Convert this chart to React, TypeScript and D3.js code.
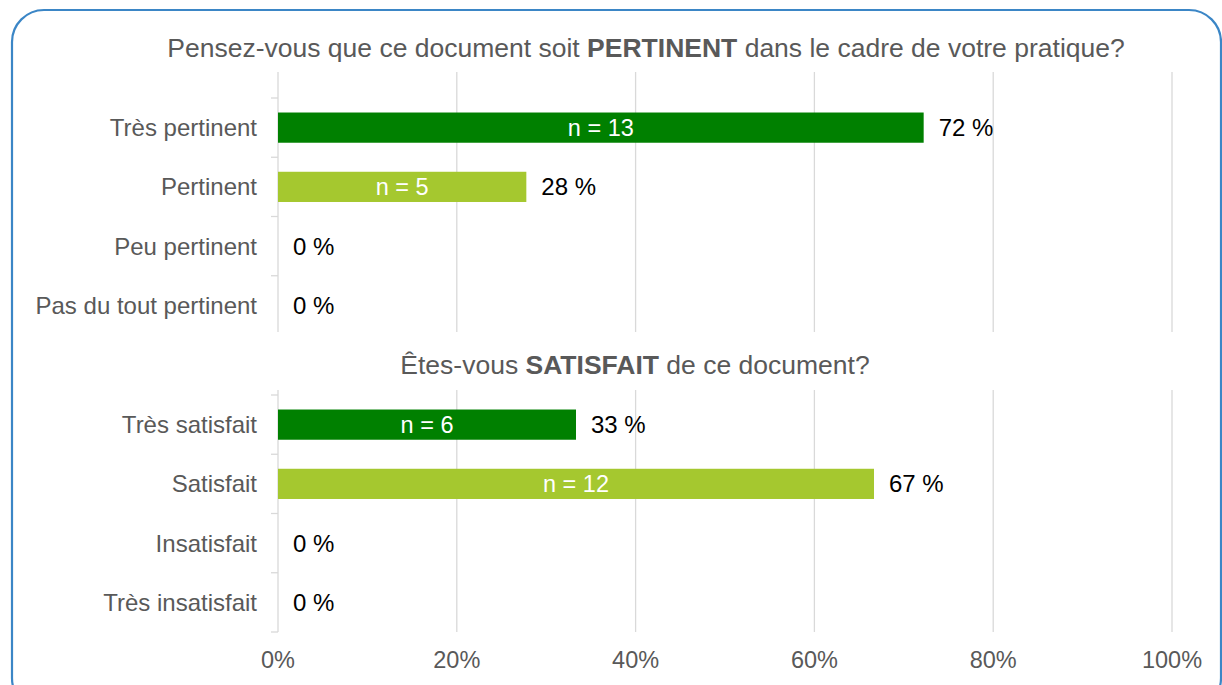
import React from "react";
import * as d3 from "d3";

// survey answers, 18 respondents per question
const pertinentCats = ["Très pertinent", "Pertinent", "Peu pertinent", "Pas du tout pertinent"];
const pertinentCounts = [13, 5, 0, 0];
const satisfaitCats = ["Très satisfait", "Satisfait", "Insatisfait", "Très insatisfait"];
const satisfaitCounts = [6, 12, 0, 0];
const total = 18;
const xTicks = [0, 0.2, 0.4, 0.6, 0.8, 1];

const W = 1222;
const H = 685;
const FONT = "'Liberation Sans', Arial, sans-serif";
const barColors = ["#008000", "#a5c82f", "#a5c82f", "#a5c82f"];

const x = d3.scaleLinear().domain([0, 1]).range([278, 1172]);

type PanelProps = {
  cats: string[];
  counts: number[];
  bandTop: number;
  bandBottom: number;
  gridTop: number;
  gridBottom: number;
  lastTick: boolean;
};

const Panel = ({ cats, counts, bandTop, bandBottom, gridTop, gridBottom, lastTick }: PanelProps) => {
  const y = d3.scaleBand<string>().domain(cats).range([bandTop, bandBottom]).paddingInner(0.49).paddingOuter(0.245);
  const step = y.step();
  const boundaries = d3.range(cats.length + 1).map(i => bandTop + i * step).filter((v, i) => lastTick || i < cats.length);
  return (
    <g>
      {xTicks.slice(1).map(t => (
        <line key={t} x1={x(t)} x2={x(t)} y1={gridTop} y2={gridBottom} stroke="#d9d9d9" strokeWidth={1.3} />
      ))}
      <line x1={x(0)} x2={x(0)} y1={gridTop} y2={gridBottom} stroke="#d9d9d9" strokeWidth={1.3} />
      {boundaries.map((b, i) => (
        <line key={i} x1={x(0) - 7} x2={x(0)} y1={b} y2={b} stroke="#d9d9d9" strokeWidth={1.3} />
      ))}
      {cats.map((c, i) => {
        const v = counts[i] / total;
        const cy = (y(c) as number) + y.bandwidth() / 2;
        return (
          <g key={c}>
            <text x={257} y={cy} dy="0.35em" textAnchor="end" fontSize={24} fill="#595959">{c}</text>
            {counts[i] > 0 && (
              <rect x={x(0)} y={y(c)} width={x(v) - x(0)} height={y.bandwidth()} fill={barColors[i]} />
            )}
            {counts[i] > 0 && (
              <text x={(x(0) + x(v)) / 2} y={cy} dy="0.35em" textAnchor="middle" fontSize={23.5} fill="#fff">{`n = ${counts[i]}`}</text>
            )}
            <text x={x(v) + 15} y={cy} dy="0.35em" fontSize={24} fill="#000">{`${Math.round(v * 100)} %`}</text>
          </g>
        );
      })}
    </g>
  );
};

export default function App() {
  return (
    <svg width={W} height={H} style={{ position: "absolute", left: 0, top: 0 }} fontFamily={FONT}>
      <rect x={0} y={0} width={W} height={H} fill="#fff" />
      <rect x={12} y={10} width={1209} height={700} rx={32} ry={32} fill="none" stroke="#3b86c6" strokeWidth={2.2} />

      <text x={646} y={57} textAnchor="middle" fontSize={26.5} fill="#595959">
        Pensez-vous que ce document soit <tspan fontWeight="bold">PERTINENT</tspan> dans le cadre de votre pratique?
      </text>
      <Panel cats={pertinentCats} counts={pertinentCounts} bandTop={98} bandBottom={335} gridTop={72} gridBottom={332} lastTick={false} />

      <text x={635} y={374} textAnchor="middle" fontSize={26.5} fill="#595959">
        Êtes-vous <tspan fontWeight="bold">SATISFAIT</tspan> de ce document?
      </text>
      <Panel cats={satisfaitCats} counts={satisfaitCounts} bandTop={395} bandBottom={632} gridTop={390} gridBottom={632} lastTick={true} />

      {xTicks.map(t => (
        <text key={t} x={x(t)} y={660} dy="0.35em" textAnchor="middle" fontSize={23.5} fill="#595959">
          {`${Math.round(t * 100)}%`}
        </text>
      ))}
    </svg>
  );
}
